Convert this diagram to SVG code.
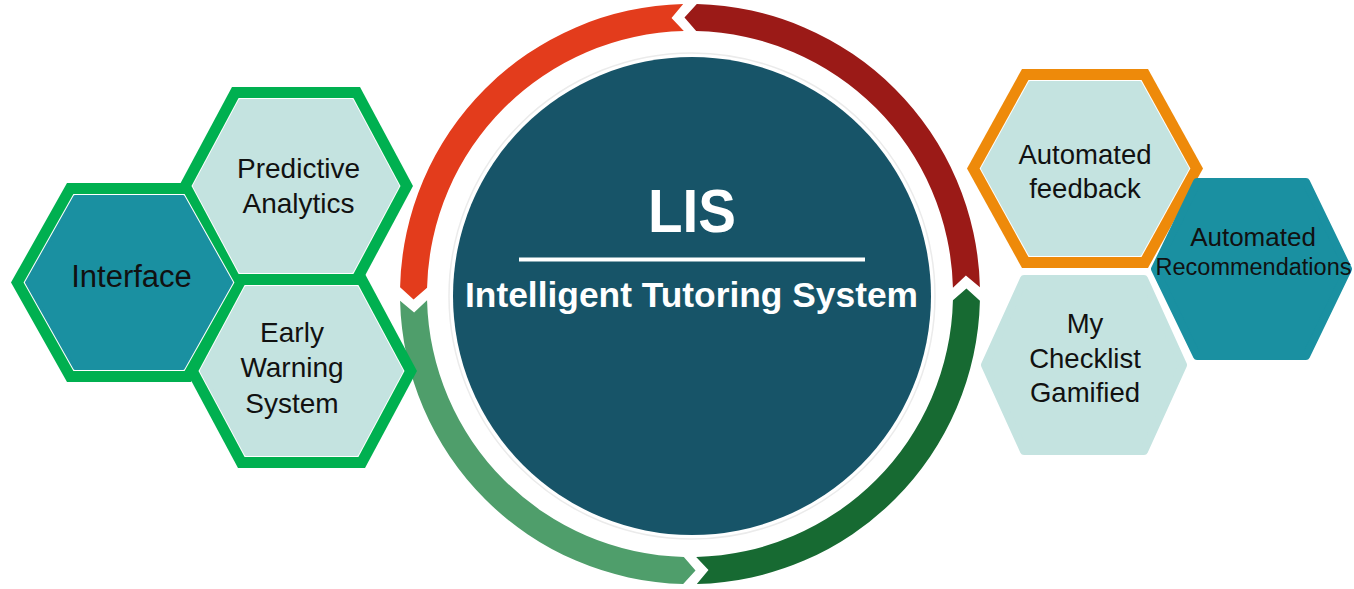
<svg xmlns="http://www.w3.org/2000/svg" xmlns:xlink="http://www.w3.org/1999/xlink" width="1354" height="589" viewBox="0 0 1354 589">
  <style>
    .lbl { font-family: "Liberation Sans", Arial, sans-serif; fill: #111111; text-anchor: middle; }
    .ctr { font-family: "Liberation Sans", Arial, sans-serif; font-weight: bold; fill: #ffffff; text-anchor: middle; }
    .green { fill: #00B050; }
    .white { fill: #ffffff; }
    .light { fill: #C4E3E0; stroke: #C4E3E0; stroke-width: 3; stroke-linejoin: round; }
    .teal { fill: #1A90A1; stroke: #1A90A1; stroke-width: 3; stroke-linejoin: round; }
    .softlight { fill: #C4E3E0; stroke: #C4E3E0; stroke-width: 8; stroke-linejoin: round; }
    .softteal { fill: #1A90A1; stroke: #1A90A1; stroke-width: 8; stroke-linejoin: round; }
  </style>
  <defs>
    <path id="seg" d="M 683.19 4.08 A 290 290 0 0 0 400.08 287.19 L 413.56 299.53 L 427.07 287.83 A 263 263 0 0 1 683.83 31.07 L 671.51 18.12 Z"/>
  </defs>
  <rect width="1354" height="589" fill="#ffffff"/>

  <g id="connectors">
    <use xlink:href="#seg" href="#seg" fill="#E33C1C"/>
    <use xlink:href="#seg" href="#seg" fill="#4F9E6B" transform="rotate(-90 690 294)"/>
    <use xlink:href="#seg" href="#seg" fill="#176A32" transform="rotate(-180 690 294)"/>
    <use xlink:href="#seg" href="#seg" fill="#9B1A17" transform="rotate(90 690 294)"/>
  </g>

  <g id="center">
    <circle cx="692" cy="296" r="243" fill="none" stroke="#ebebeb" stroke-width="1.5"/>
    <circle cx="692" cy="296" r="239" fill="#175468"/>
    <text class="ctr" x="692" y="232" font-size="61" textLength="88" lengthAdjust="spacingAndGlyphs">LIS</text>
    <rect x="519" y="257.5" width="346" height="4" fill="#ffffff"/>
    <text class="ctr" x="691.5" y="306.5" font-size="35" textLength="453" lengthAdjust="spacingAndGlyphs">Intelligent Tutoring System</text>
  </g>

  <g id="left-borders">
    <polygon class="green" points="67,183 191,183 247,282.5 191,382 67,382 11,282.5"/>
    <polygon class="green" points="232,87 360,87 413,186 360,285 232,285 179,186"/>
    <polygon class="green" points="238,274 365,274 417,371 365,468 238,468 186,371"/>
  </g>

  <g id="interface">
    <polygon class="white" points="73.4,194 184.6,194 234.4,282.5 184.6,371 73.4,371 23.6,282.5"/>
    <polygon class="teal" points="74.9,196.5 183.1,196.5 231.5,282.5 183.1,368.5 74.9,368.5 26.5,282.5"/>
    <text class="lbl" x="131.5" y="287" font-size="31">Interface</text>
  </g>

  <g id="predictive-analytics">
    <polygon class="white" points="238.6,98 353.4,98 400.5,186 353.4,274 238.6,274 191.5,186"/>
    <polygon class="light" points="240.1,100.5 351.9,100.5 397.7,186 351.9,271.5 240.1,271.5 194.3,186"/>
    <text class="lbl" x="298.5" y="178" font-size="28">Predictive</text>
    <text class="lbl" x="298.5" y="213" font-size="28">Analytics</text>
  </g>

  <g id="early-warning-system">
    <polygon class="white" points="244.6,285 358.4,285 404.5,371 358.4,457 244.6,457 198.5,371"/>
    <polygon class="light" points="246.1,287.5 356.9,287.5 401.7,371 356.9,454.5 246.1,454.5 201.3,371"/>
    <text class="lbl" x="292" y="341.5" font-size="28">Early</text>
    <text class="lbl" x="292" y="377" font-size="28">Warning</text>
    <text class="lbl" x="292" y="413" font-size="28">System</text>
  </g>

  <g id="automated-feedback">
    <polygon fill="#EE8A0A" points="1022,69 1148,69 1203,168.5 1148,268 1022,268 967,168.5"/>
    <polygon class="white" points="1028.5,80 1141.5,80 1190.4,168.5 1141.5,257 1028.5,257 979.6,168.5"/>
    <polygon class="light" points="1030,82.5 1140,82.5 1187.6,168.5 1140,254.5 1030,254.5 982.4,168.5"/>
    <text class="lbl" x="1085" y="163.5" font-size="27.5">Automated</text>
    <text class="lbl" x="1085" y="197.5" font-size="27.5">feedback</text>
  </g>

  <g id="automated-recommendations">
    <polygon class="softteal" points="1197,182 1306,182 1348,269 1306,356 1197,356 1155,269"/>
    <text class="lbl" x="1253" y="246" font-size="26">Automated</text>
    <text class="lbl" x="1253.5" y="275" font-size="23.5">Recommendations</text>
  </g>

  <g id="my-checklist-gamified">
    <polygon class="softlight" points="1024,279 1144,279 1183,365 1144,451 1024,451 985,365"/>
    <text class="lbl" x="1085" y="333" font-size="27.5">My</text>
    <text class="lbl" x="1085" y="368" font-size="27.5">Checklist</text>
    <text class="lbl" x="1085" y="402" font-size="27.5">Gamified</text>
  </g>
</svg>
